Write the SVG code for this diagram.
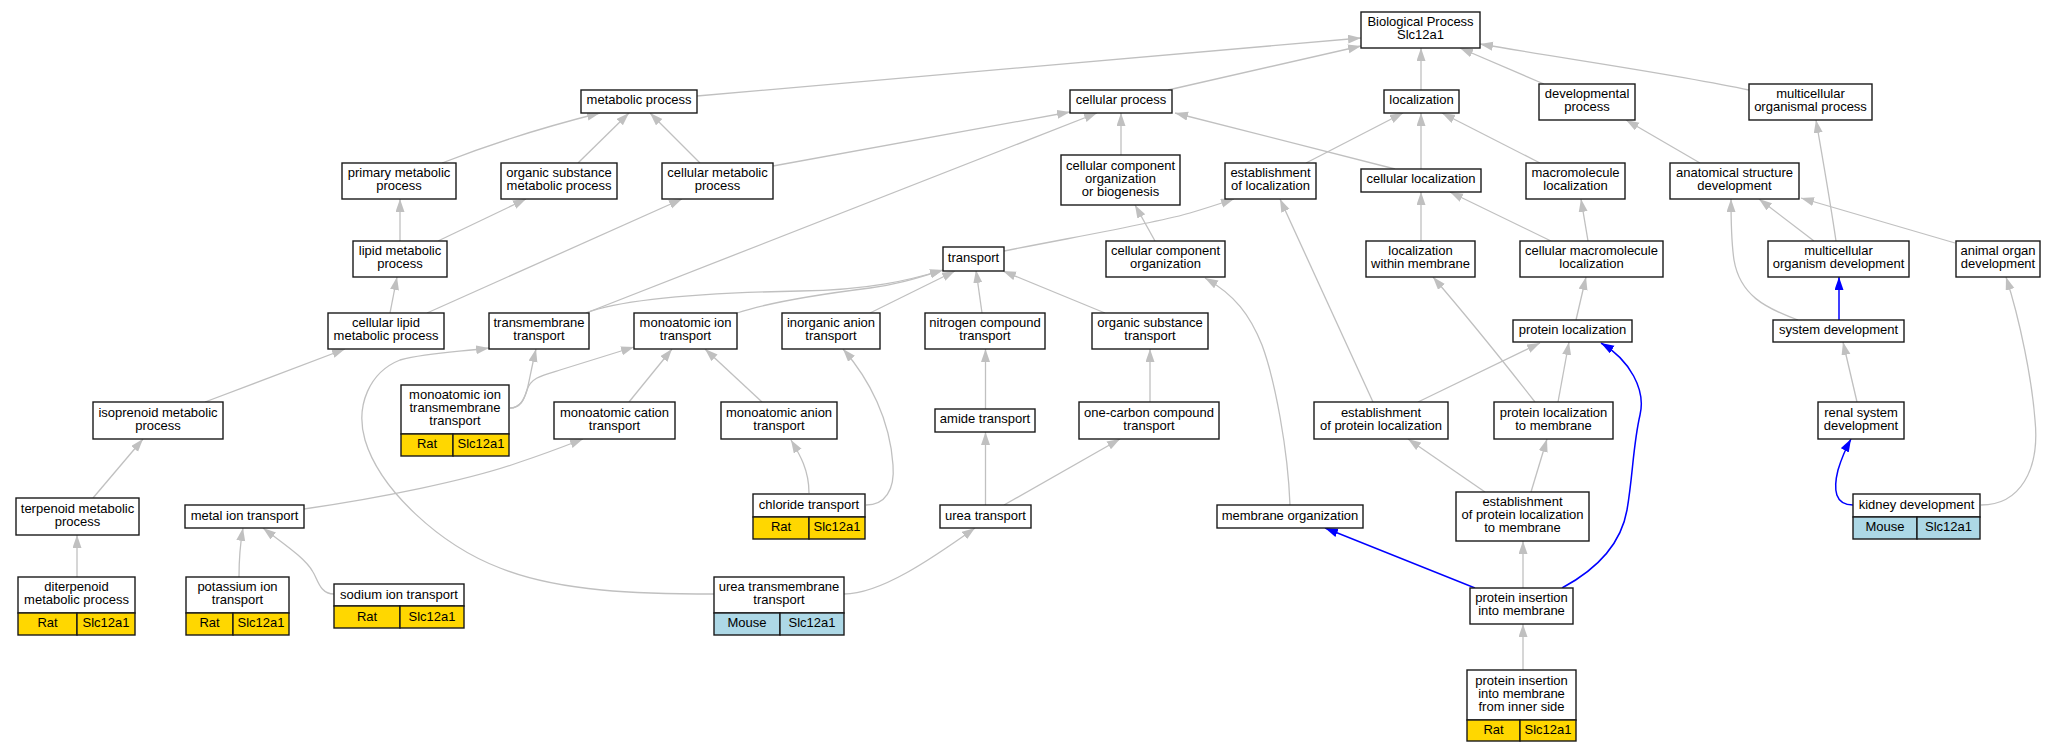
<svg xmlns="http://www.w3.org/2000/svg" width="2056" height="752" viewBox="0 0 2056 752">
<style>
.n rect{fill:#fff;stroke:#1a1a1a;stroke-width:1.4}
.n rect.rat{fill:#ffd700}
.n rect.mouse{fill:#add8e6}
text{font-family:"Liberation Sans",Arial,sans-serif;font-size:13px;text-anchor:middle;fill:#000}
.e path{fill:none;stroke:#c0c0c0;stroke-width:1.3;marker-end:url(#ag)}
.e path.b{stroke:#0000ff;stroke-width:1.5;marker-end:url(#ab)}
</style>
<defs>
<marker id="ag" markerUnits="userSpaceOnUse" markerWidth="14" markerHeight="10" refX="13" refY="4.5" orient="auto"><path d="M0,0 L13,4.5 L0,9 z" fill="#c0c0c0"/></marker>
<marker id="ab" markerUnits="userSpaceOnUse" markerWidth="14" markerHeight="10" refX="13" refY="4.5" orient="auto"><path d="M0,0 L13,4.5 L0,9 z" fill="#0000ff"/></marker>
</defs>
<rect width="2056" height="752" fill="#fff"/>
<g id="edges" class="e">
<path d="M697,96 L1361,38"/>
<path d="M1168,90 L1361,46"/>
<path d="M1421,90 L1421,48"/>
<path d="M1544,84 L1460,48"/>
<path d="M1749,90 C1680,75 1560,58 1480,44"/>
<path d="M442,163 C470,152 520,133 600,113"/>
<path d="M578,163 L629,113"/>
<path d="M700,163 L650,113"/>
<path d="M773,166 L1070,112"/>
<path d="M586,313 L1097,113"/>
<path d="M1121,155 L1121,113"/>
<path d="M1395,169 L1175,113"/>
<path d="M1306,163 L1403,113"/>
<path d="M1421,169 L1421,113"/>
<path d="M1540,163 L1442,113"/>
<path d="M400,241 L400,199"/>
<path d="M438,241 L526,199"/>
<path d="M390,313 L397,277"/>
<path d="M427,313 L682,199"/>
<path d="M205,402 L345,349"/>
<path d="M1004,251 C1080,236 1160,222 1190,213 C1210,207 1222,203 1234,199"/>
<path d="M1155,241 L1135,205"/>
<path d="M1421,241 L1421,192"/>
<path d="M1551,241 L1450,192"/>
<path d="M1588,241 L1581,199"/>
<path d="M1576,320 L1586,277"/>
<path d="M1700,163 L1626,120"/>
<path d="M1836,241 C1830,200 1822,155 1816,120"/>
<path d="M1814,241 L1759,199"/>
<path d="M1955,243 L1801,198"/>
<path d="M1798,320 C1765,308 1740,295 1734,260 C1731,240 1731,220 1731,199"/>
<path class="b" d="M1839,320 L1839,277"/>
<path d="M1857,402 L1843,342"/>
<path class="b" d="M1853,505 C1835,505 1833,490 1838,470 C1841,460 1845,450 1851,439"/>
<path d="M1981,505 C2020,505 2040,470 2035,420 C2032,380 2020,320 2006,277"/>
<path d="M586,313 C620,300 700,293 800,291 C870,290 910,280 943,270"/>
<path d="M737,313 C770,302 830,293 870,288 C900,284 920,277 943,270"/>
<path d="M870,313 L955,271"/>
<path d="M982,313 L976,270"/>
<path d="M1105,313 L1003,271"/>
<path d="M510,408 C520,408 524,400 527,390 C529,383 531,370 536,349"/>
<path d="M510,408 C520,408 524,400 527,390 C531,378 540,376 560,370 L634,347"/>
<path d="M714,594 C640,594 560,592 500,568 C440,545 380,490 365,440 C355,405 370,372 400,360 C430,352 460,352 489,348"/>
<path d="M844,594 C880,594 930,560 975,528"/>
<path d="M629,402 L672,349"/>
<path d="M762,402 L705,349"/>
<path d="M809,493 C809,470 800,455 791,440"/>
<path d="M866,505 C885,505 895,490 893,465 C890,420 870,380 843,349"/>
<path d="M985.5,409 L985.5,349"/>
<path d="M985.5,505 L985.5,432"/>
<path d="M1004,505 L1120,439"/>
<path d="M1150,402 L1150,349"/>
<path d="M304,509 C380,498 470,480 520,462 C550,452 565,446 583,439"/>
<path d="M239,577 C239,560 240,545 243,528"/>
<path d="M334,594 C320,594 318,580 313,572 C305,558 285,545 263,528"/>
<path d="M93,498 L143,439"/>
<path d="M77,577 L77,535"/>
<path d="M1290,505 C1288,450 1275,380 1262,345 C1250,315 1235,295 1205,278"/>
<path d="M1373,402 L1280,199"/>
<path d="M1418,402 L1540,343"/>
<path d="M1535,402 C1510,370 1470,320 1433,277"/>
<path d="M1558,402 L1569,342"/>
<path d="M1485,492 L1408,439"/>
<path d="M1531,492 L1547,439"/>
<path d="M1523,588 L1523,541"/>
<path d="M1523,670 L1523,624"/>
<path class="b" d="M1475,588 L1325,528"/>
<path class="b" d="M1562,588 C1590,573 1620,550 1627,510 C1633,475 1633,445 1640,415 C1646,390 1630,360 1601,343"/>
</g>
<g id="n_bp" class="n"><rect x="1361" y="12" width="119" height="36"/><text x="1420.5" y="26">Biological Process</text><text x="1420.5" y="39">Slc12a1</text></g>
<g id="n_metab" class="n"><rect x="581" y="90" width="116" height="23"/><text x="639" y="104">metabolic process</text></g>
<g id="n_cellproc" class="n"><rect x="1070" y="90" width="102" height="23"/><text x="1121" y="104">cellular process</text></g>
<g id="n_loc" class="n"><rect x="1384" y="90" width="75" height="23"/><text x="1421.5" y="104">localization</text></g>
<g id="n_devproc" class="n"><rect x="1539" y="84" width="96" height="36"/><text x="1587" y="98">developmental</text><text x="1587" y="111">process</text></g>
<g id="n_mop" class="n"><rect x="1749" y="84" width="123" height="36"/><text x="1810.5" y="98">multicellular</text><text x="1810.5" y="111">organismal process</text></g>
<g id="n_primary" class="n"><rect x="342" y="163" width="114" height="36"/><text x="399" y="177">primary metabolic</text><text x="399" y="190">process</text></g>
<g id="n_osmp" class="n"><rect x="501" y="163" width="116" height="36"/><text x="559" y="177">organic substance</text><text x="559" y="190">metabolic process</text></g>
<g id="n_cmp" class="n"><rect x="662" y="163" width="111" height="36"/><text x="717.5" y="177">cellular metabolic</text><text x="717.5" y="190">process</text></g>
<g id="n_ccob" class="n"><rect x="1061" y="155" width="119" height="50"/><text x="1120.5" y="169.5">cellular component</text><text x="1120.5" y="182.5">organization</text><text x="1120.5" y="195.5">or biogenesis</text></g>
<g id="n_estloc" class="n"><rect x="1225" y="163" width="91" height="36"/><text x="1270.5" y="177">establishment</text><text x="1270.5" y="190">of localization</text></g>
<g id="n_cellloc" class="n"><rect x="1361" y="169" width="120" height="23"/><text x="1421" y="183">cellular localization</text></g>
<g id="n_macroloc" class="n"><rect x="1526" y="163" width="99" height="36"/><text x="1575.5" y="177">macromolecule</text><text x="1575.5" y="190">localization</text></g>
<g id="n_asd" class="n"><rect x="1670" y="163" width="129" height="36"/><text x="1734.5" y="177">anatomical structure</text><text x="1734.5" y="190">development</text></g>
<g id="n_lipid" class="n"><rect x="353" y="241" width="94" height="36"/><text x="400" y="255">lipid metabolic</text><text x="400" y="268">process</text></g>
<g id="n_transport" class="n"><rect x="943" y="247" width="61" height="24"/><text x="973.5" y="261.5">transport</text></g>
<g id="n_cco" class="n"><rect x="1106" y="241" width="119" height="36"/><text x="1165.5" y="255">cellular component</text><text x="1165.5" y="268">organization</text></g>
<g id="n_locmem" class="n"><rect x="1366" y="241" width="109" height="36"/><text x="1420.5" y="255">localization</text><text x="1420.5" y="268">within membrane</text></g>
<g id="n_cml" class="n"><rect x="1520" y="241" width="143" height="36"/><text x="1591.5" y="255">cellular macromolecule</text><text x="1591.5" y="268">localization</text></g>
<g id="n_mod" class="n"><rect x="1768" y="241" width="141" height="36"/><text x="1838.5" y="255">multicellular</text><text x="1838.5" y="268">organism development</text></g>
<g id="n_aod" class="n"><rect x="1956" y="241" width="84" height="36"/><text x="1998" y="255">animal organ</text><text x="1998" y="268">development</text></g>
<g id="n_clmp" class="n"><rect x="328" y="313" width="116" height="36"/><text x="386" y="327">cellular lipid</text><text x="386" y="340">metabolic process</text></g>
<g id="n_tmt" class="n"><rect x="489" y="313" width="100" height="36"/><text x="539" y="327">transmembrane</text><text x="539" y="340">transport</text></g>
<g id="n_mit" class="n"><rect x="634" y="313" width="103" height="36"/><text x="685.5" y="327">monoatomic ion</text><text x="685.5" y="340">transport</text></g>
<g id="n_iat" class="n"><rect x="782" y="313" width="98" height="36"/><text x="831" y="327">inorganic anion</text><text x="831" y="340">transport</text></g>
<g id="n_nct" class="n"><rect x="925" y="313" width="120" height="36"/><text x="985" y="327">nitrogen compound</text><text x="985" y="340">transport</text></g>
<g id="n_ost" class="n"><rect x="1092" y="313" width="116" height="36"/><text x="1150" y="327">organic substance</text><text x="1150" y="340">transport</text></g>
<g id="n_protloc" class="n"><rect x="1513" y="320" width="119" height="22"/><text x="1572.5" y="333.5">protein localization</text></g>
<g id="n_sysdev" class="n"><rect x="1773" y="320" width="131" height="22"/><text x="1838.5" y="333.5">system development</text></g>
<g id="n_iso" class="n"><rect x="93" y="402" width="130" height="37"/><text x="158" y="416.5">isoprenoid metabolic</text><text x="158" y="429.5">process</text></g>
<g id="n_mitt" class="n"><rect x="401" y="385" width="108" height="49"/><text x="455" y="399">monoatomic ion</text><text x="455" y="412">transmembrane</text><text x="455" y="425">transport</text><rect class="rat" x="401" y="434" width="52" height="22"/><rect class="rat" x="453" y="434" width="56" height="22"/><text x="427" y="448">Rat</text><text x="481" y="448">Slc12a1</text></g>
<g id="n_mct" class="n"><rect x="554" y="402" width="121" height="37"/><text x="614.5" y="416.5">monoatomic cation</text><text x="614.5" y="429.5">transport</text></g>
<g id="n_mat" class="n"><rect x="721" y="402" width="116" height="37"/><text x="779" y="416.5">monoatomic anion</text><text x="779" y="429.5">transport</text></g>
<g id="n_amide" class="n"><rect x="935" y="409" width="100" height="23"/><text x="985" y="423">amide transport</text></g>
<g id="n_oct" class="n"><rect x="1079" y="402" width="140" height="37"/><text x="1149" y="416.5">one-carbon compound</text><text x="1149" y="429.5">transport</text></g>
<g id="n_epl" class="n"><rect x="1314" y="402" width="134" height="37"/><text x="1381" y="416.5">establishment</text><text x="1381" y="429.5">of protein localization</text></g>
<g id="n_plm" class="n"><rect x="1494" y="402" width="119" height="37"/><text x="1553.5" y="416.5">protein localization</text><text x="1553.5" y="429.5">to membrane</text></g>
<g id="n_renal" class="n"><rect x="1818" y="402" width="86" height="37"/><text x="1861" y="416.5">renal system</text><text x="1861" y="429.5">development</text></g>
<g id="n_terp" class="n"><rect x="16" y="498" width="123" height="37"/><text x="77.5" y="512.5">terpenoid metabolic</text><text x="77.5" y="525.5">process</text></g>
<g id="n_metal" class="n"><rect x="185" y="505" width="119" height="23"/><text x="244.5" y="519.5">metal ion transport</text></g>
<g id="n_chloride" class="n"><rect x="753" y="494" width="112" height="23"/><text x="809" y="508.5">chloride transport</text><rect class="rat" x="753" y="517" width="56" height="22"/><rect class="rat" x="809" y="517" width="56" height="22"/><text x="781" y="531">Rat</text><text x="837" y="531">Slc12a1</text></g>
<g id="n_urea" class="n"><rect x="940" y="505" width="91" height="23"/><text x="985.5" y="519.5">urea transport</text></g>
<g id="n_memorg" class="n"><rect x="1217" y="505" width="146" height="23"/><text x="1290" y="519.5">membrane organization</text></g>
<g id="n_eplm" class="n"><rect x="1456" y="492" width="133" height="49"/><text x="1522.5" y="506">establishment</text><text x="1522.5" y="519">of protein localization</text><text x="1522.5" y="532">to membrane</text></g>
<g id="n_kidney" class="n"><rect x="1853" y="494" width="127" height="23"/><text x="1916.5" y="508.5">kidney development</text><rect class="mouse" x="1853" y="517" width="64" height="22"/><rect class="mouse" x="1917" y="517" width="63" height="22"/><text x="1885" y="531">Mouse</text><text x="1948.5" y="531">Slc12a1</text></g>
<g id="n_diterp" class="n"><rect x="18" y="577" width="117" height="36"/><text x="76.5" y="591">diterpenoid</text><text x="76.5" y="604">metabolic process</text><rect class="rat" x="18" y="613" width="59" height="22"/><rect class="rat" x="77" y="613" width="58" height="22"/><text x="47.5" y="627">Rat</text><text x="106" y="627">Slc12a1</text></g>
<g id="n_potassium" class="n"><rect x="186" y="577" width="103" height="36"/><text x="237.5" y="591">potassium ion</text><text x="237.5" y="604">transport</text><rect class="rat" x="186" y="613" width="47" height="22"/><rect class="rat" x="233" y="613" width="56" height="22"/><text x="209.5" y="627">Rat</text><text x="261" y="627">Slc12a1</text></g>
<g id="n_sodium" class="n"><rect x="334" y="584" width="130" height="22"/><text x="399" y="598.5">sodium ion transport</text><rect class="rat" x="334" y="606" width="66" height="22"/><rect class="rat" x="400" y="606" width="64" height="22"/><text x="367" y="620.5">Rat</text><text x="432" y="620.5">Slc12a1</text></g>
<g id="n_utmt" class="n"><rect x="714" y="577" width="130" height="36"/><text x="779" y="591">urea transmembrane</text><text x="779" y="604">transport</text><rect class="mouse" x="714" y="613" width="66" height="22"/><rect class="mouse" x="780" y="613" width="64" height="22"/><text x="747" y="627">Mouse</text><text x="812" y="627">Slc12a1</text></g>
<g id="n_piim" class="n"><rect x="1470" y="588" width="103" height="36"/><text x="1521.5" y="602">protein insertion</text><text x="1521.5" y="615">into membrane</text></g>
<g id="n_piimfis" class="n"><rect x="1467" y="670" width="109" height="50"/><text x="1521.5" y="684.5">protein insertion</text><text x="1521.5" y="697.5">into membrane</text><text x="1521.5" y="710.5">from inner side</text><rect class="rat" x="1467" y="720" width="53" height="21"/><rect class="rat" x="1520" y="720" width="56" height="21"/><text x="1493.5" y="734">Rat</text><text x="1548" y="734">Slc12a1</text></g>
</svg>
